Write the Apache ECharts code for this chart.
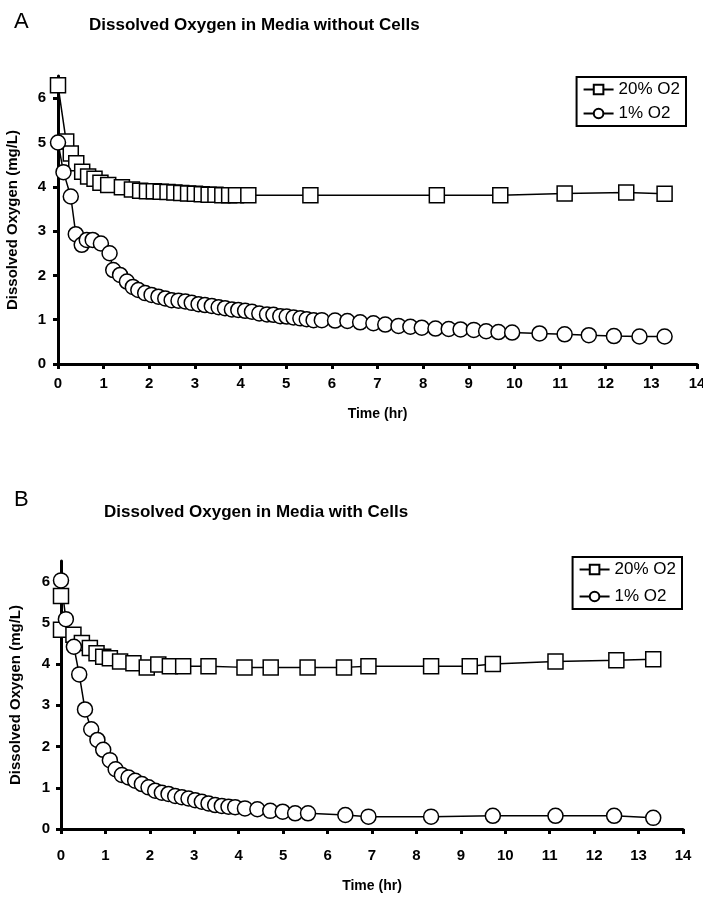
<!DOCTYPE html>
<html>
<head>
<meta charset="utf-8">
<script src="https://cdn.jsdelivr.net/npm/echarts@6/dist/echarts.min.js"></script>
<style>
  html, body { margin: 0; padding: 0; background: #fff; }
  #chart { width: 703px; height: 901px; }
</style>
</head>
<body>
<div id="chart"></div>
<script>
// panel A - media without cells
const tA20 = [0, 0.18, 0.28, 0.4, 0.53, 0.66, 0.8, 0.93, 1.1, 1.4, 1.62, 1.8, 1.95, 2.1, 2.25, 2.4, 2.55, 2.7, 2.85, 3.0, 3.15, 3.3, 3.45, 3.6, 3.75, 3.9, 4.17, 5.53, 8.3, 9.69, 11.1, 12.45, 13.29];
const vA20 = [6.29, 5.02, 4.75, 4.53, 4.34, 4.23, 4.18, 4.09, 4.04, 3.99, 3.94, 3.91, 3.9, 3.9, 3.89, 3.88, 3.87, 3.86, 3.85, 3.84, 3.83, 3.82, 3.82, 3.81, 3.81, 3.81, 3.81, 3.81, 3.81, 3.81, 3.85, 3.87, 3.84];
const tA1 = [0, 0.12, 0.28, 0.39, 0.52, 0.63, 0.76, 0.94, 1.13, 1.21, 1.36, 1.51, 1.64, 1.76, 1.91, 2.05, 2.2, 2.35, 2.49, 2.64, 2.79, 2.93, 3.08, 3.22, 3.37, 3.52, 3.66, 3.81, 3.95, 4.1, 4.25, 4.41, 4.58, 4.72, 4.87, 5.01, 5.16, 5.31, 5.45, 5.6, 5.78, 6.07, 6.34, 6.62, 6.91, 7.17, 7.46, 7.72, 7.97, 8.27, 8.56, 8.82, 9.11, 9.38, 9.65, 9.95, 10.55, 11.1, 11.63, 12.18, 12.74, 13.29];
const vA1 = [5.0, 4.33, 3.78, 2.93, 2.69, 2.8, 2.8, 2.72, 2.5, 2.12, 2.01, 1.86, 1.74, 1.67, 1.6, 1.56, 1.52, 1.48, 1.44, 1.43, 1.41, 1.38, 1.35, 1.33, 1.31, 1.28, 1.26, 1.23, 1.22, 1.2, 1.18, 1.14, 1.12, 1.11, 1.08, 1.07, 1.05, 1.03, 1.01, 0.99, 0.99, 0.98, 0.97, 0.94, 0.92, 0.89, 0.86, 0.84, 0.82, 0.8, 0.79, 0.78, 0.77, 0.74, 0.72, 0.71, 0.69, 0.67, 0.65, 0.63, 0.62, 0.62];

// panel B - media with cells
const tB20 = [0, 0, 0.28, 0.47, 0.65, 0.8, 0.95, 1.1, 1.33, 1.63, 1.93, 2.19, 2.45, 2.75, 3.32, 4.13, 4.72, 5.55, 6.37, 6.92, 8.33, 9.2, 9.72, 11.13, 12.5, 13.33];
const vB20 = [5.65, 4.83, 4.71, 4.51, 4.39, 4.26, 4.18, 4.14, 4.06, 4.02, 3.92, 3.99, 3.95, 3.95, 3.95, 3.92, 3.92, 3.92, 3.92, 3.95, 3.95, 3.95, 4.0, 4.06, 4.09, 4.12];
const tB1 = [0, 0.11, 0.29, 0.41, 0.54, 0.68, 0.82, 0.95, 1.1, 1.23, 1.37, 1.52, 1.67, 1.82, 1.97, 2.12, 2.27, 2.42, 2.57, 2.72, 2.87, 3.02, 3.17, 3.32, 3.47, 3.62, 3.77, 3.92, 4.14, 4.42, 4.71, 4.99, 5.27, 5.56, 6.4, 6.92, 8.33, 9.72, 11.13, 12.45, 13.33];
const vB1 = [6.03, 5.09, 4.42, 3.75, 2.9, 2.42, 2.16, 1.92, 1.67, 1.45, 1.31, 1.25, 1.17, 1.09, 1.01, 0.93, 0.88, 0.85, 0.8, 0.77, 0.74, 0.7, 0.66, 0.62, 0.58, 0.56, 0.54, 0.53, 0.5, 0.48, 0.44, 0.42, 0.38, 0.38, 0.34, 0.3, 0.3, 0.32, 0.32, 0.32, 0.27];

const xTicks = [0, 1, 2, 3, 4, 5, 6, 7, 8, 9, 10, 11, 12, 13, 14];
const yTicks = [0, 1, 2, 3, 4, 5, 6];
const seriesNames = ["20% O2", "1% O2"];

const FONT = "'Liberation Sans', Arial, sans-serif";

function pairs(t, v) {
  return t.map(function (x, i) { return [x, v[i]]; });
}

function xAxisFor(idx, labelMargin, nameGap) {
  return {
    gridIndex: idx,
    type: "value",
    min: 0,
    max: 14,
    interval: 1,
    name: "Time (hr)",
    nameLocation: "middle",
    nameGap: nameGap,
    nameTextStyle: { color: "#000", fontFamily: FONT, fontWeight: "bold", fontSize: 14 },
    axisLine: { lineStyle: { color: "#000", width: 3 } },
    axisTick: { length: 5, lineStyle: { color: "#000", width: 3 } },
    axisLabel: { color: "#000", fontFamily: FONT, fontWeight: "bold", fontSize: 15, margin: labelMargin, customValues: xTicks },
    splitLine: { show: false }
  };
}

function yAxisFor(idx, labelMargin) {
  return {
    gridIndex: idx,
    type: "value",
    min: 0,
    max: 6.5,
    interval: 1,
    name: "Dissolved Oxygen (mg/L)",
    nameLocation: "middle",
    nameRotate: 90,
    nameGap: 38,
    nameTextStyle: { color: "#000", fontFamily: FONT, fontWeight: "bold", fontSize: 15 },
    axisLine: { lineStyle: { color: "#000", width: 3 } },
    axisTick: { length: 5, lineStyle: { color: "#000", width: 3 }, customValues: yTicks },
    axisLabel: { color: "#000", fontFamily: FONT, fontWeight: "bold", fontSize: 15, margin: labelMargin, customValues: yTicks },
    splitLine: { show: false }
  };
}

function lineSeries(name, idx, symbol, size, data) {
  return {
    name: name,
    type: "line",
    xAxisIndex: idx,
    yAxisIndex: idx,
    data: data,
    symbol: symbol,
    symbolSize: size,
    showSymbol: true,
    showAllSymbol: true,
    animation: false,
    lineStyle: { color: "#000", width: 1.5 },
    itemStyle: { color: "#fff", borderColor: "#000", borderWidth: 1.5 }
  };
}

function legendFor(right, top, gap) {
  return {
    data: seriesNames,
    orient: "vertical",
    right: right,
    top: top,
    itemWidth: 30,
    itemHeight: 12,
    itemGap: gap,
    padding: [4, 6, 4, 6],
    borderColor: "#000",
    borderWidth: 2,
    textStyle: { color: "#000", fontFamily: FONT, fontSize: 17 },
    selectedMode: false
  };
}

const option = {
  backgroundColor: "#fff",
  animation: false,
  title: [
    { text: "A", left: 9, top: 6, textStyle: { fontFamily: FONT, fontWeight: "normal", fontSize: 22, color: "#000" } },
    { text: "Dissolved Oxygen in Media without Cells", left: 84, top: 12, textStyle: { fontFamily: FONT, fontWeight: "bold", fontSize: 17, color: "#000" } },
    { text: "B", left: 9, top: 484, textStyle: { fontFamily: FONT, fontWeight: "normal", fontSize: 22, color: "#000" } },
    { text: "Dissolved Oxygen in Media with Cells", left: 99, top: 499, textStyle: { fontFamily: FONT, fontWeight: "bold", fontSize: 17, color: "#000" } }
  ],
  legend: [legendFor(17, 77, 7), legendFor(21, 557, 10)],
  grid: [
    { left: 58, top: 76, width: 639, height: 288, outerBoundsMode: "none" },
    { left: 61, top: 561, width: 622, height: 268, outerBoundsMode: "none" }
  ],
  xAxis: [xAxisFor(0, 12, 43), xAxisFor(1, 19, 50)],
  yAxis: [yAxisFor(0, 12), yAxisFor(1, 11)],
  series: [
    lineSeries(seriesNames[0], 0, "rect", 15, pairs(tA20, vA20)),
    lineSeries(seriesNames[1], 0, "circle", 15, pairs(tA1, vA1)),
    lineSeries(seriesNames[0], 1, "rect", 15, pairs(tB20, vB20)),
    lineSeries(seriesNames[1], 1, "circle", 15, pairs(tB1, vB1))
  ]
};

const myChart = echarts.init(document.getElementById("chart"));
myChart.setOption(option);
</script>
</body>
</html>
